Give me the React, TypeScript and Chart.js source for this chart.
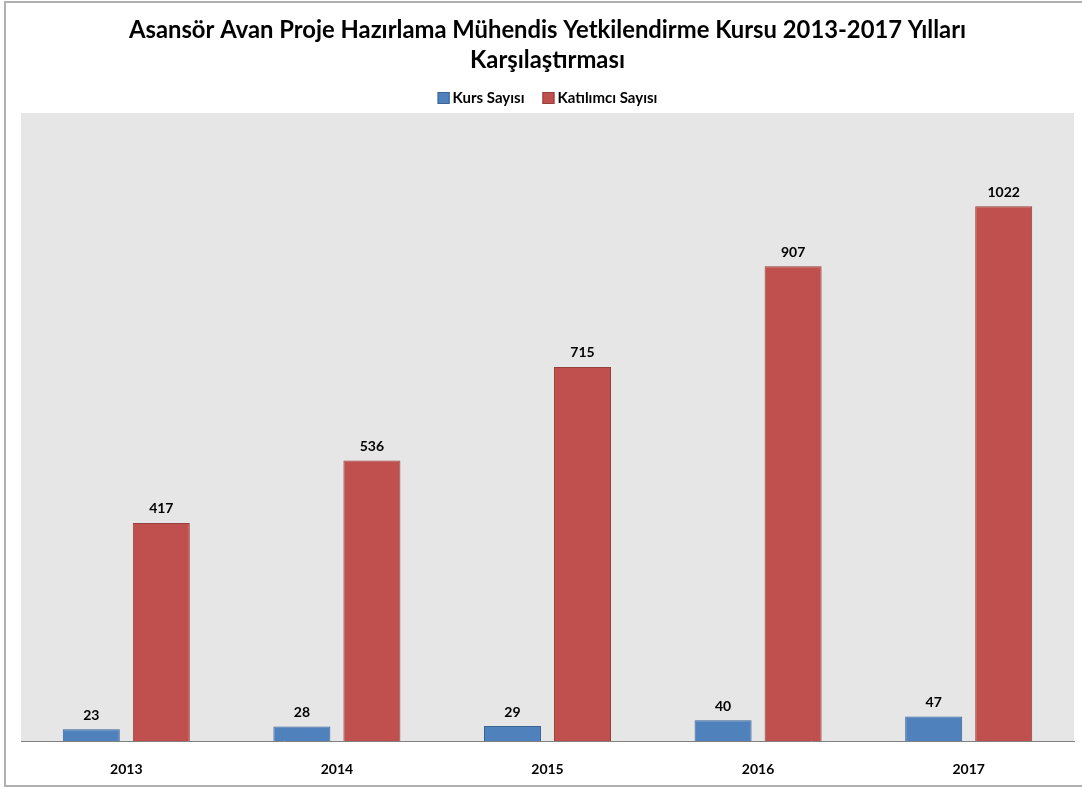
import React, { useEffect, useRef } from "react";
import { Chart, registerables } from "chart.js";

Chart.register(...registerables);

const years = ["2013", "2014", "2015", "2016", "2017"];
const kursSayisi = [23, 28, 29, 40, 47];
const katilimciSayisi = [417, 536, 715, 907, 1022];
const titleLines = [
  "Asansör Avan Proje Hazırlama Mühendis Yetkilendirme Kursu 2013-2017 Yılları",
  "Karşılaştırması",
];
const seriesNames = ["Kurs Sayısı", "Katılımcı Sayısı"];
const seriesColors = ["#4f81bd", "#c0504d"];
const seriesBorders = ["#3a6496", "#963e3b"];

const FONT = "Lato, 'Open Sans', sans-serif";

const plotBg = {
  id: "plotBg",
  beforeDraw(chart: any) {
    const { ctx, chartArea } = chart;
    ctx.save();
    ctx.fillStyle = "#e6e6e6";
    ctx.fillRect(chartArea.left, chartArea.top, chartArea.right - chartArea.left, chartArea.bottom - chartArea.top);
    ctx.restore();
  },
};

const valueLabels = {
  id: "valueLabels",
  afterDatasetsDraw(chart: any) {
    const { ctx } = chart;
    ctx.save();
    ctx.font = `bold 14px ${FONT}`;
    ctx.fillStyle = "#000";
    ctx.textAlign = "center";
    ctx.textBaseline = "middle";
    chart.data.datasets.forEach((ds: any, i: number) => {
      const meta = chart.getDatasetMeta(i);
      meta.data.forEach((bar: any, j: number) => {
        ctx.fillText(String(ds.data[j]), bar.x, bar.y - 14);
      });
    });
    ctx.restore();
  },
};

const customLegend = {
  id: "customLegend",
  afterDraw(chart: any) {
    const { ctx, chartArea } = chart;
    const box = 12;
    const textGap = 3;
    const itemGap = 18;
    const cy = 98;
    ctx.save();
    ctx.font = `bold 15px ${FONT}`;
    const widths = seriesNames.map((n) => box + textGap + ctx.measureText(n).width);
    const total = widths.reduce((a, b) => a + b, 0) + itemGap * (seriesNames.length - 1);
    let x = (chartArea.left + chartArea.right) / 2 - total / 2;
    ctx.textBaseline = "middle";
    ctx.textAlign = "left";
    seriesNames.forEach((n, i) => {
      ctx.fillStyle = seriesColors[i];
      ctx.fillRect(x, cy - box / 2, box, box);
      ctx.strokeStyle = seriesBorders[i];
      ctx.lineWidth = 1;
      ctx.strokeRect(x + 0.5, cy - box / 2 + 0.5, box - 1, box - 1);
      ctx.fillStyle = "#000";
      ctx.fillText(n, x + box + textGap, cy);
      x += widths[i] + itemGap;
    });
    ctx.restore();
  },
};

export default function App() {
  const ref = useRef<HTMLCanvasElement>(null);
  useEffect(() => {
    if (!ref.current) return;
    const chart = new Chart(ref.current, {
      type: "bar",
      data: {
        labels: years,
        datasets: [
          {
            label: seriesNames[0],
            data: kursSayisi,
            backgroundColor: seriesColors[0],
            borderColor: seriesBorders[0],
            borderWidth: 1,
            categoryPercentage: 0.665,
            barPercentage: 0.814,
          },
          {
            label: seriesNames[1],
            data: katilimciSayisi,
            backgroundColor: seriesColors[1],
            borderColor: seriesBorders[1],
            borderWidth: 1,
            categoryPercentage: 0.665,
            barPercentage: 0.814,
          },
        ],
      },
      plugins: [plotBg, valueLabels, customLegend],
      options: {
        responsive: false,
        animation: false,
        layout: { padding: { left: 21, right: 8, top: 0, bottom: -11 } },
        plugins: {
          title: {
            display: true,
            text: titleLines,
            color: "#000",
            font: { family: FONT, size: 23.8, weight: "bold", lineHeight: 1.26 },
            padding: { top: 15, bottom: 38 },
          },
          legend: { display: false },
          tooltip: { enabled: false },
        },
        scales: {
          x: {
            grid: { display: false, drawTicks: false },
            border: { display: true, color: "#808080", width: 1 },
            ticks: {
              color: "#000",
              font: { family: FONT, size: 14, weight: "bold" },
              padding: 20,
            },
          },
          y: {
            display: false,
            min: 0,
            max: 1200,
          },
        },
      },
    });
    return () => chart.destroy();
  }, []);
  return (
    <div style={{ position: "absolute", left: 0, top: 0, width: 1082, height: 787, background: "#fff", overflow: "hidden" }}>
      <div
        style={{
          position: "absolute",
          left: 4,
          top: 1,
          width: 1100,
          height: 782,
          border: "2px solid #b0b0b0",
        }}
      />
      <canvas ref={ref} width={1082} height={787} style={{ position: "absolute", left: 0, top: 0 }} />
    </div>
  );
}
